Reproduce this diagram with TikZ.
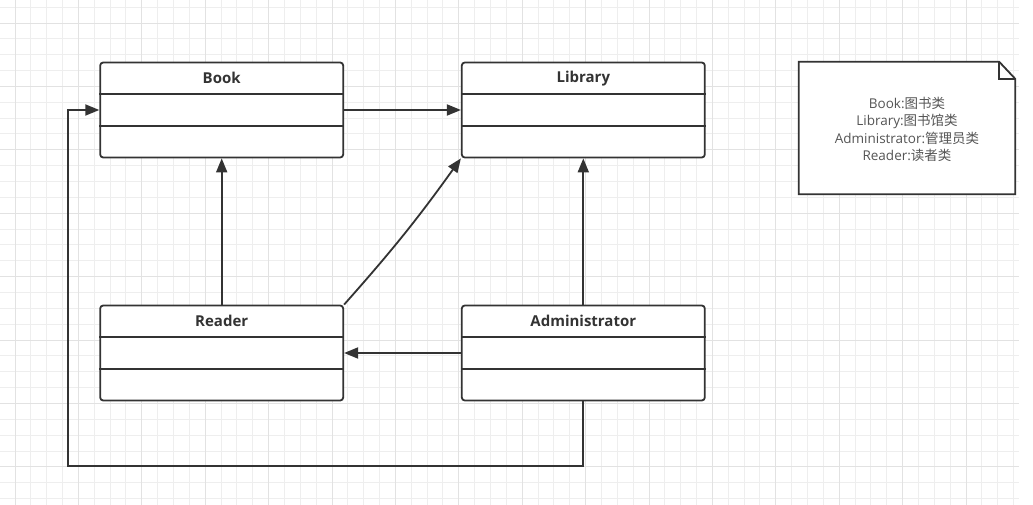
\documentclass[tikz,border=0pt]{standalone}
\usepackage{fontspec}
\setmainfont{Open Sans}
\newfontfamily\cjk{Noto Sans CJK SC}
\usepackage{tikz}
\usetikzlibrary{positioning, calc, arrows.meta}
\definecolor{ink}{HTML}{333333}
\definecolor{notetext}{HTML}{555555}
\definecolor{gridminor}{HTML}{EEEEEE}
\definecolor{gridmajor}{HTML}{E2E2E2}
\tikzset{
    cls/.style={draw=ink, line width=1.8pt, fill=white, rounded corners=3pt,
        minimum width=243pt, minimum height=95pt, inner sep=0pt},
    clstitle/.style={minimum height=33pt, inner sep=0pt, text=ink,
        font=\fontsize{15}{18}\selectfont\bfseries},
    arr/.style={draw=ink, line width=1.8pt, -{Triangle[length=14pt, width=11pt]}},
    notebox/.style={minimum width=216pt, minimum height=132pt, inner sep=0pt},
    notetext/.style={align=center, text=notetext, font=\fontsize{13.5}{17.5}\selectfont},
}
% class box with two compartment lines
\newcommand{\umlclass}[3]{
    \node[cls] (#1) at (#2) {};
    \node[clstitle, below=0pt of #1.north] (#1-title) {#3};
    \draw[ink, line width=1.8pt] ($(#1.north west)!1/3!(#1.south west)$) -- ($(#1.north east)!1/3!(#1.south east)$);
    \draw[ink, line width=1.8pt] ($(#1.north west)!2/3!(#1.south west)$) -- ($(#1.north east)!2/3!(#1.south east)$);
}

\begin{document}
\begin{tikzpicture}[x=1pt, y=-1pt]
    \useasboundingbox[fill=white] (0,0) rectangle (1033,505);
    % grid
    \foreach \i in {0,...,63}
        \draw[gridminor, line width=1pt] ({15+15.85*\i},0) -- ({15+15.85*\i},505);
    \foreach \j in {0,...,31}
        \draw[gridminor, line width=1pt] (0,{7.2+15.85*\j}) -- (1019,{7.2+15.85*\j});
    \foreach \i in {0,...,15}
        \draw[gridmajor, line width=1pt] ({15+63.4*\i},0) -- ({15+63.4*\i},505);
    \foreach \j in {0,...,7}
        \draw[gridmajor, line width=1pt] (0,{23.05+63.4*\j}) -- (1019,{23.05+63.4*\j});

    \umlclass{book}{221.7,110}{Book}
    \umlclass{library}{583.3,110}{Library}
    \umlclass{reader}{221.7,353}{Reader}
    \umlclass{admin}{583.3,353}{Administrator}

    % note with folded corner
    \node[notebox] (note) at (907,128) {};
    \draw[ink, line width=1.8pt, fill=white]
        (note.south west) -- (note.north west) -- ([xshift=-16pt]note.north east)
        -- ([yshift=-17pt]note.north east) -- (note.south east) -- cycle;
    \draw[ink, line width=1.8pt] ([xshift=-16pt]note.north east)
        -- ([xshift=-16pt, yshift=-17pt]note.north east) -- ([yshift=-17pt]note.north east);
    \node[notetext] (legend) at ([yshift=-1.5pt]note.center)
        {Book:{\cjk 图书类}\\Library:{\cjk 图书馆类}\\Administrator:{\cjk 管理员类}\\Reader:{\cjk 读者类}};

    \coordinate (turn) at (68,466);
    \draw[arr] (book.east) -- (library.west);
    \draw[arr] (reader.north) -- (book.south);
    \draw[arr] (reader.north east) to[bend right=3] (library.south west);
    \draw[arr] (admin.north) -- (library.south);
    \draw[arr] (admin.west) -- (reader.east);
    \draw[arr] (admin.south) |- (turn) |- (book.west);
\end{tikzpicture}
\end{document}
